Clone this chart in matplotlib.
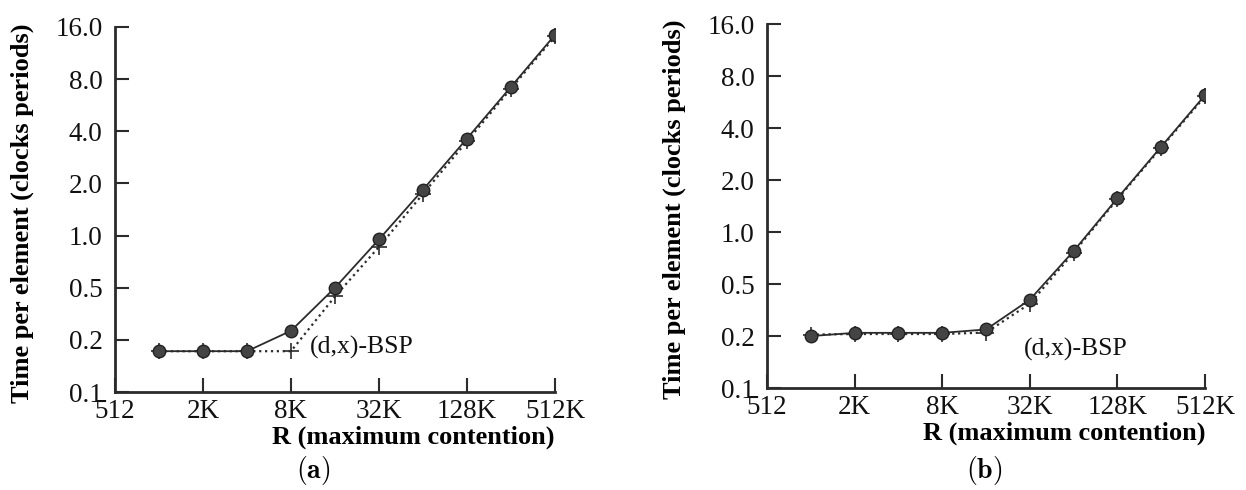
import numpy as np
import matplotlib.pyplot as plt

# R values (maximum contention) and measured / predicted time per element
R = [1024, 2048, 4096, 8192, 16384, 32768, 65536, 131072, 262144, 524288]

meas_a = [0.215, 0.215, 0.215, 0.282, 0.50, 0.95, 1.84, 3.63, 7.22, 14.4]
bsp_a = [0.215, 0.215, 0.215, 0.215, 0.445, 0.86, 1.74, 3.5, 7.05, 14.1]

meas_b = [0.25, 0.261, 0.261, 0.261, 0.273, 0.406, 0.776, 1.57, 3.12, 6.2]
bsp_b = [0.255, 0.257, 0.257, 0.257, 0.262, 0.385, 0.76, 1.55, 3.08, 6.1]

y_ticks = [0.125, 0.25, 0.5, 1, 2, 4, 8, 16]
y_labels = ["0.1", "0.2", "0.5", "1.0", "2.0", "4.0", "8.0", "16.0"]
x_ticks = [512, 2048, 8192, 32768, 131072, 524288]
x_labels = ["512", "2K", "8K", "32K", "128K", "512K"]

plt.rcParams['font.family'] = ['Liberation Serif', 'DejaVu Serif']
plt.rcParams['mathtext.fontset'] = 'cm'
ink = '#2b2b2b'

fig = plt.figure(figsize=(12.46, 4.9), dpi=100)
ax_a = fig.add_axes([0.0923, 0.200, 0.3531, 0.745])
ax_b = fig.add_axes([0.6156, 0.208, 0.3515, 0.743])


def draw_panel(ax, meas, bsp, note_xy, letter, letter_x):
    ax.plot(R, bsp, linestyle=':', color=ink, lw=1.6, marker='+', ms=11,
            mew=1.2, zorder=2)
    ax.plot(R, meas, linestyle='-', color=ink, lw=1.3, marker='o', ms=9,
            mfc='#444444', mec='#222222', zorder=3)
    ax.set_xscale('log', base=2)
    ax.set_yscale('log', base=2)
    ax.set_xlim(512, 524288)
    ax.set_ylim(0.125, 16)
    ax.set_xticks(x_ticks)
    ax.set_xticklabels(x_labels)
    ax.set_yticks(y_ticks)
    ax.set_yticklabels(y_labels)
    ax.minorticks_off()
    ax.tick_params(direction='in', length=10, width=1.5, labelsize=19.5,
                   color=ink, labelcolor='#111111')
    ax.tick_params(axis='y', pad=9)
    ax.tick_params(axis='x', pad=5)
    for side in ['top', 'right']:
        ax.spines[side].set_visible(False)
    for side in ['left', 'bottom']:
        ax.spines[side].set_linewidth(2)
        ax.spines[side].set_color(ink)
    ax.set_ylabel("Time per element (clocks periods)", fontsize=19,
                  fontweight='bold')
    ax.yaxis.set_label_coords(-0.185, 0.49)
    ax.set_xlabel("R (maximum contention)", fontsize=19, fontweight='bold',
                  labelpad=1, loc='right')
    ax.text(note_xy[0], note_xy[1], "(d,x)-BSP", fontsize=18.5,
            va='center', ha='left', color='#111111')
    fig.text(letter_x, 0.04, letter, fontsize=20,
             ha='center', va='center')


draw_panel(ax_a, meas_a, bsp_a, (11000, 0.226), r"$\mathbf{(a)}$", 0.251)
draw_panel(ax_b, meas_b, bsp_b, (30000, 0.208), r"$\mathbf{(b)}$", 0.79)

fig.savefig("out.png", dpi=100)
